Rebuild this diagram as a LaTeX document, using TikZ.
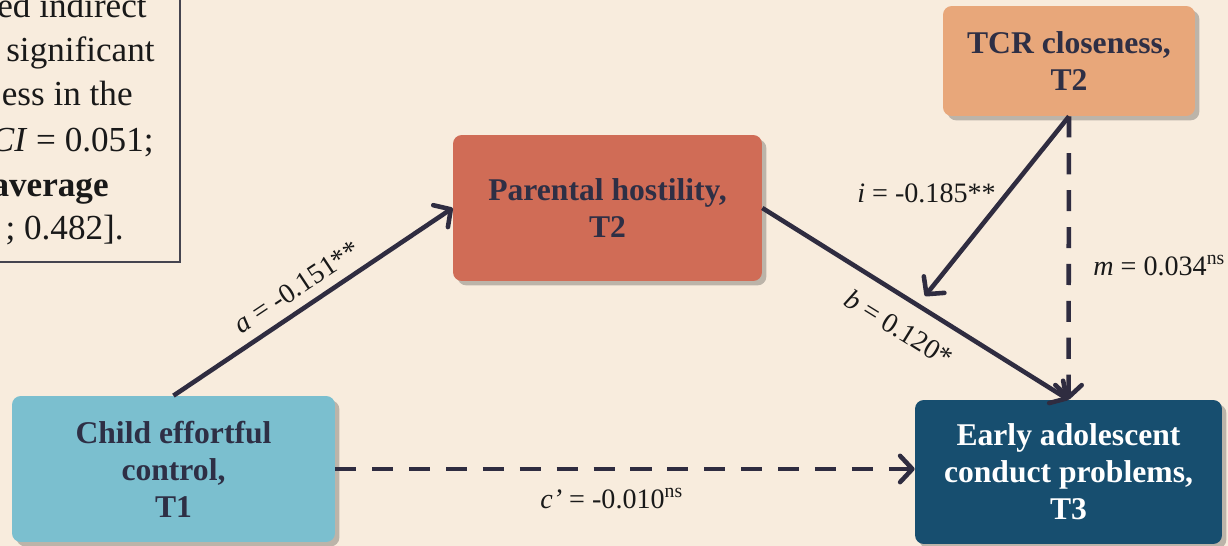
\documentclass[tikz,border=0pt]{standalone}
\usepackage{fontspec}
\setmainfont{Liberation Serif}
\usetikzlibrary{arrows.meta,shadows,calc}
\definecolor{bg}{HTML}{F8ECDD}
\definecolor{cteal}{HTML}{7BBFCF}
\definecolor{cred}{HTML}{D06C56}
\definecolor{corange}{HTML}{E8A77A}
\definecolor{cnavy}{HTML}{174E6F}
\definecolor{ink}{HTML}{2E2F45}
\definecolor{arrowc}{HTML}{2F2C40}
\definecolor{frame}{HTML}{45444F}
\begin{document}
\begin{tikzpicture}[x=0.02cm,y=-0.02cm,
  box/.style={rectangle, rounded corners=5pt, inner sep=0pt, align=center,
    font=\fontsize{18}{21}\selectfont\bfseries, text=ink,
    drop shadow={shadow xshift=2.5pt, shadow yshift=-2.5pt, opacity=0.3, fill=black!80}},
  conn/.style={draw=arrowc, line width=2.6pt, -{Straight Barb[length=7pt,width=15pt,round]}},
  dashconn/.style={conn, dash pattern=on 12pt off 9pt},
  lab/.style={font=\fontsize{16}{19}\selectfont, text=black!90, inner sep=0pt},
  note/.style={font=\fontsize{20}{25}\selectfont, text=black!90, inner sep=0pt, anchor=base east}]
\useasboundingbox (0,0) rectangle (1228,546);
\clip (0,0) rectangle (1228,546);
\fill[bg] (0,0) rectangle (1228,546);

% note box (cut off at the top left)
\draw[frame, line width=1.3pt, fill=bg] (-20,-20) rectangle (180,262);
\node[note] (n1) at (147,18) {ed indirect};
\node[note] (n2) at (155,62) {significant};
\node[note] (n3) at (133,106) {ess in the};
\node[note] (n4) at (154,152) {\textit{CI} = 0.051;};
\node[note] (n5) at (109,197) {\textbf{average}};
\node[note] (n6) at (124,240) {; 0.482].};

% boxes
\node[box, fill=cteal, minimum width=6.46cm, minimum height=2.92cm] (child) at (173.5,469)
  {Child effortful\\control,\\T1};
\node[box, fill=cred, minimum width=6.18cm, minimum height=2.92cm] (par) at (607.5,208)
  {Parental hostility,\\T2};
\node[box, fill=corange, minimum width=5.04cm, minimum height=2.2cm] (tcr) at (1069,61)
  {TCR closeness,\\T2};
\node[box, fill=cnavy, text=white, minimum width=6.14cm, minimum height=2.88cm] (early) at (1068.5,472)
  {Early adolescent\\conduct problems,\\T3};

% connectors
\coordinate (ib) at (925,296);
\draw[conn] (child.north) -- (par.west);
\draw[conn] (par.east) -- (early.north);
\draw[dashconn] (tcr.south) -- (early.north);
\draw[conn] (tcr.south) -- (ib);
\draw[dashconn] (child.east) -- (child.east -| early.west);

% labels
\node[lab, rotate=33.6] (la) at (297,287) {\textit{a} = -0.151**};
\node[lab, rotate=-31.8] (lb) at (899,328) {\textit{b} = 0.120*};
\node[lab, anchor=base west] (li) at (857,203) {\textit{i} = -0.185**};
\node[lab, anchor=base west] (lm) at (1093,276)
  {\textit{m} = 0.034\textsuperscript{ns}};
\node[lab, anchor=base west] (lc) at (540,509) {\textit{c’} = -0.010\textsuperscript{ns}};
\end{tikzpicture}
\end{document}
